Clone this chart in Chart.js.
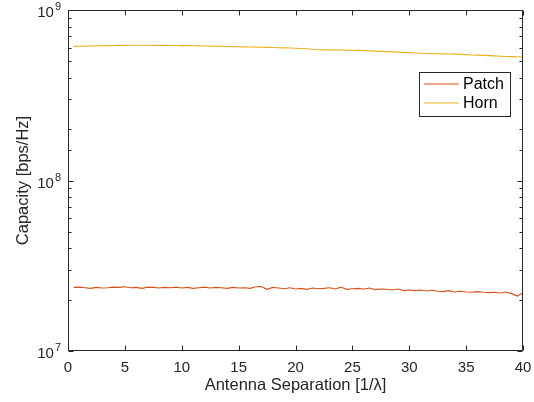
<!DOCTYPE html>
<html><head><meta charset="utf-8">
<script src="https://cdn.jsdelivr.net/npm/chart.js@4.4.0/dist/chart.umd.min.js"></script>
<style>html,body{margin:0;padding:0;background:#fff}#wrap{width:534px;height:402px}</style>
</head><body><div id="wrap"><canvas id="c" width="534" height="402"></canvas></div>
<script>
const seriesNames = ['Patch', 'Horn'];
const separation = [
  0.5,1,1.5,2,2.5,3,3.5,4,4.5,5,5.5,6,6.5,7,7.5,8,8.5,9,9.5,10,
  10.5,11,11.5,12,12.5,13,13.5,14,14.5,15,15.5,16,16.5,17,17.5,18,18.5,19,19.5,20,
  20.5,21,21.5,22,22.5,23,23.5,24,24.5,25,25.5,26,26.5,27,27.5,28,28.5,29,29.5,30,
  30.5,31,31.5,32,32.5,33,33.5,34,34.5,35,35.5,36,36.5,37,37.5,38,38.5,39,39.5,40
];
const patchCapacity = [
  2.36e7,2.37e7,2.35e7,2.33e7,2.36e7,2.34e7,2.35e7,2.37e7,2.36e7,2.38e7,2.35e7,2.36e7,2.33e7,2.37e7,2.36e7,2.34e7,2.36e7,2.35e7,2.37e7,2.34e7,
  2.36e7,2.33e7,2.35e7,2.37e7,2.34e7,2.36e7,2.35e7,2.33e7,2.36e7,2.34e7,2.35e7,2.33e7,2.38e7,2.39e7,2.30e7,2.36e7,2.34e7,2.32e7,2.35e7,2.31e7,
  2.33e7,2.30e7,2.34e7,2.32e7,2.33e7,2.35e7,2.31e7,2.37e7,2.30e7,2.32e7,2.33e7,2.31e7,2.34e7,2.29e7,2.31e7,2.30e7,2.28e7,2.31e7,2.26e7,2.28e7,
  2.26e7,2.28e7,2.25e7,2.27e7,2.24e7,2.23e7,2.26e7,2.22e7,2.24e7,2.22e7,2.21e7,2.23e7,2.21e7,2.20e7,2.21e7,2.19e7,2.22e7,2.17e7,2.10e7,2.20e7
];
const hornCapacity = [
  6.12e8,6.13e8,6.14e8,6.15e8,6.16e8,6.17e8,6.18e8,6.19e8,6.20e8,6.20e8,6.21e8,6.21e8,6.21e8,6.21e8,6.20e8,6.20e8,6.20e8,6.19e8,6.19e8,6.18e8,
  6.18e8,6.17e8,6.16e8,6.15e8,6.14e8,6.13e8,6.12e8,6.11e8,6.10e8,6.09e8,6.08e8,6.07e8,6.06e8,6.05e8,6.04e8,6.03e8,6.01e8,6.00e8,5.98e8,5.97e8,
  5.95e8,5.93e8,5.88e8,5.85e8,5.84e8,5.84e8,5.84e8,5.83e8,5.82e8,5.81e8,5.80e8,5.78e8,5.76e8,5.74e8,5.72e8,5.70e8,5.68e8,5.66e8,5.64e8,5.62e8,
  5.60e8,5.58e8,5.56e8,5.55e8,5.54e8,5.53e8,5.52e8,5.51e8,5.49e8,5.47e8,5.45e8,5.44e8,5.42e8,5.40e8,5.38e8,5.36e8,5.34e8,5.33e8,5.32e8,5.30e8
];
const xTickStep = 5;
const xTitle = 'Antenna Separation [1/\u03BB]';
const yTitle = 'Capacity [bps/Hz]';

const FONT = '"Liberation Sans", Arial, Helvetica, sans-serif';
const INK = '#262626';

const decorPlugin = {
  id: 'decor',
  afterDatasetsDraw(chart) {
    const ctx = chart.ctx, a = chart.chartArea;
    const xs = chart.scales.x, ys = chart.scales.y;
    ctx.save();
    ctx.strokeStyle = INK; ctx.lineWidth = 1;
    const L = Math.round(a.left) + 0.5, R = Math.round(a.right) - 0.5;
    const T = Math.round(a.top) + 0.5, B = Math.round(a.bottom) - 0.5;
    ctx.beginPath();
    ctx.rect(L, T, R - L, B - T);
    xs.ticks.forEach(t => {
      const px = Math.round(xs.getPixelForValue(t.value)) + 0.5;
      ctx.moveTo(px, B); ctx.lineTo(px, B - 5);
      ctx.moveTo(px, T); ctx.lineTo(px, T + 5);
    });
    ys.ticks.forEach(t => {
      const lg = Math.log10(t.value);
      const major = Math.abs(lg - Math.round(lg)) < 1e-9;
      const len = major ? 5 : 3;
      const py = Math.round(ys.getPixelForValue(t.value)) + 0.5;
      ctx.moveTo(L, py); ctx.lineTo(L + len, py);
      ctx.moveTo(R, py); ctx.lineTo(R - len, py);
    });
    ctx.stroke();
    ctx.fillStyle = INK;
    ys.ticks.forEach(t => {
      const lg = Math.log10(t.value);
      if (Math.abs(lg - Math.round(lg)) > 1e-9) return;
      const py = ys.getPixelForValue(t.value);
      const exp = String(Math.round(lg));
      ctx.font = '11px ' + FONT;
      const ew = ctx.measureText(exp).width;
      const supRight = a.left - 7;
      ctx.textAlign = 'left'; ctx.textBaseline = 'middle';
      ctx.fillText(exp, supRight - ew, py - 3);
      ctx.font = '15px ' + FONT;
      ctx.textAlign = 'right';
      ctx.fillText('10', supRight - ew - 1, py + 3);
    });
    const bx = 419.5, by = 72.5, bw = 91, bh = 44;
    ctx.fillStyle = '#fff';
    ctx.fillRect(bx, by, bw, bh);
    ctx.strokeStyle = INK; ctx.lineWidth = 1;
    ctx.strokeRect(bx, by, bw, bh);
    chart.data.datasets.forEach((ds, i) => {
      const ly = 84 + i * 19;
      ctx.strokeStyle = ds.borderColor; ctx.lineWidth = 1.2;
      ctx.beginPath(); ctx.moveTo(424, ly); ctx.lineTo(459, ly); ctx.stroke();
      ctx.fillStyle = '#000';
      ctx.font = '16px ' + FONT;
      ctx.textAlign = 'left'; ctx.textBaseline = 'middle';
      ctx.fillText(ds.label, 463, ly + 1);
    });
    ctx.restore();
  }
};

new Chart(document.getElementById('c'), {
  type: 'line',
  data: {
    datasets: [
      { label: seriesNames[0], data: separation.map((x, i) => ({ x, y: patchCapacity[i] })),
        borderColor: '#D95319', borderWidth: 1.1, pointRadius: 0, tension: 0, fill: false },
      { label: seriesNames[1], data: separation.map((x, i) => ({ x, y: hornCapacity[i] })),
        borderColor: '#EDB120', borderWidth: 1.1, pointRadius: 0, tension: 0, fill: false }
    ]
  },
  options: {
    responsive: false, animation: false, devicePixelRatio: 1,
    layout: { padding: { top: 10, right: 11, left: 0, bottom: 0 } },
    plugins: { legend: { display: false }, tooltip: { enabled: false } },
    scales: {
      x: {
        type: 'linear', min: 0, max: 40,
        grid: { display: false, drawTicks: false },
        border: { display: false },
        ticks: { stepSize: xTickStep, color: INK, padding: 8, maxRotation: 0,
                 font: { family: FONT, size: 15 } },
        title: { display: true, text: xTitle, color: INK, font: { family: FONT, size: 16.5 },
                 padding: { top: 0, bottom: 7 } },
        afterFit(s) { s.height = 51; s.paddingLeft = 0; s.paddingRight = 0; }
      },
      y: {
        type: 'logarithmic', min: 1e7, max: 1e9,
        grid: { display: false, drawTicks: false },
        border: { display: false },
        ticks: { display: false },
        title: { display: true, text: yTitle, color: INK, font: { family: FONT, size: 16.5 },
                 padding: { top: 14, bottom: 0 } },
        afterFit(s) { s.width = 68; s.paddingTop = 0; s.paddingBottom = 0; }
      }
    }
  },
  plugins: [decorPlugin]
});
</script>
</body></html>
